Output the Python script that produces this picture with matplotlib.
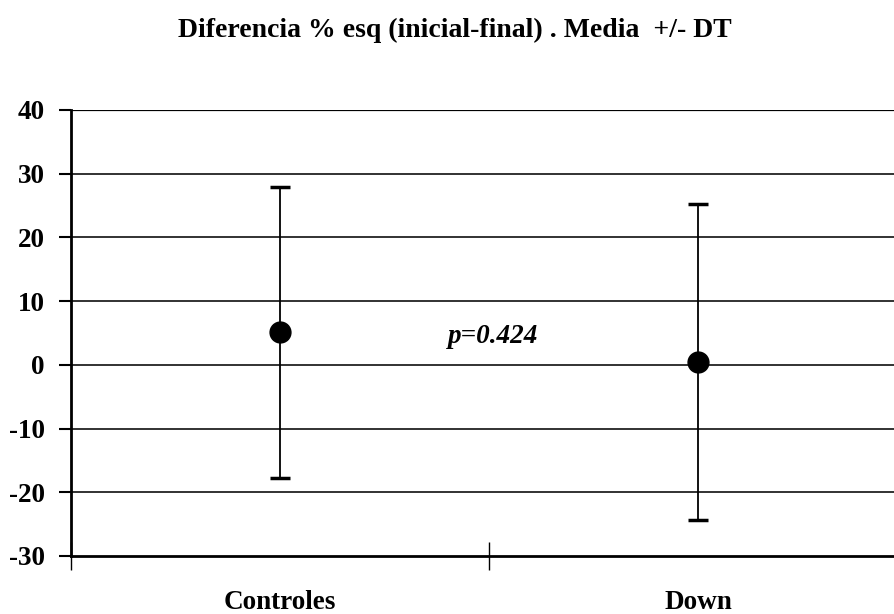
import matplotlib
matplotlib.use("Agg")
import matplotlib.pyplot as plt
from matplotlib.transforms import blended_transform_factory

plt.rcParams["font.family"] = ["Liberation Serif", "DejaVu Serif"]

groups = ["Controles", "Down"]
means = [5.1, 0.4]
upper = [27.9, 25.2]
lower = [-17.7, -24.4]
p_label = "p=0.424"
title = "Diferencia % esq (inicial-final) . Media  +/- DT"

fig = plt.figure(figsize=(8.95, 6.14), dpi=100)
# axes run a little past the right edge of the figure
ax = fig.add_axes([0.0793, 0.0945, 0.934, 0.7264])

xpos = [i + 0.5 for i in range(len(groups))]
yerr = [[m - lo for m, lo in zip(means, lower)], [up - m for m, up in zip(means, upper)]]
ax.errorbar(xpos, means, yerr=yerr, fmt="o", color="black", ms=15,
            ecolor="black", elinewidth=1.3, capsize=7.5, capthick=2.5, zorder=4)

ax.set_xlim(0, 2)
ax.set_ylim(-30, 40)
yt = list(range(-30, 41, 10))
ax.set_yticks(yt)
ax.set_yticklabels([str(v) for v in yt], fontsize=19.5, fontweight="bold")
for y in yt[1:]:
    ax.axhline(y, color="#222222" if y < 40 else "black", lw=1.3 if y < 40 else 1.6, zorder=1)

ax.set_xticks([0, 1, 2])
ax.set_xticklabels([])
ax.tick_params(axis="x", direction="inout", length=20, width=1)
ax.tick_params(axis="y", direction="out", length=9, width=1.5, pad=10)

trans = blended_transform_factory(ax.transData, ax.transAxes)
for i, g in enumerate(groups):
    ax.text(xpos[i], -0.118, g, transform=trans, ha="center", va="baseline",
            fontsize=19.5, fontweight="bold")

ax.text(0.902, 3.5, p_label, ha="left", va="baseline", fontsize=19.5,
        fontweight="bold", fontstyle="italic")

for s in ["top", "right"]:
    ax.spines[s].set_visible(False)
ax.spines["left"].set_linewidth(2)
ax.spines["bottom"].set_linewidth(2)

fig.text(0.508, 0.9397, title, ha="center", va="baseline", fontsize=20, fontweight="bold")

fig.savefig("out.png", dpi=100)
